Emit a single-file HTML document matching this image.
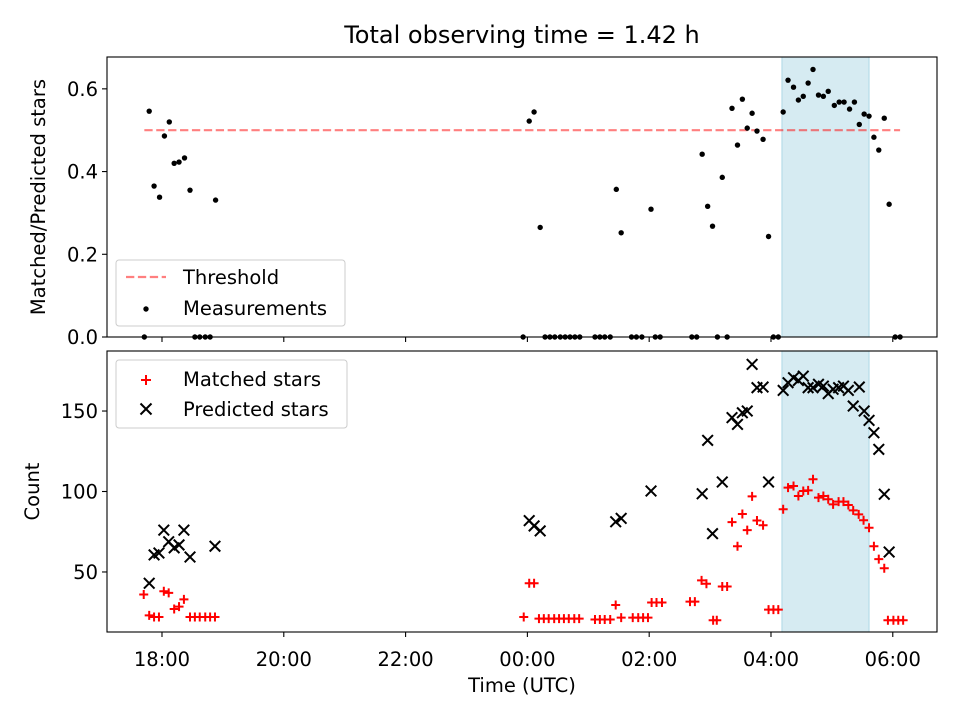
<!DOCTYPE html>
<html><head><meta charset="utf-8"><style>
body{margin:0;background:#fff}
svg{display:block;font-family:"DejaVu Sans","Liberation Sans",sans-serif}
</style></head><body>
<svg id="chart" width="960" height="720" xmlns="http://www.w3.org/2000/svg"></svg>
<script>
const ratioTimes=[17.71,17.79,17.87,17.96,18.04,18.12,18.20,18.28,18.37,18.46,18.54,18.62,18.71,18.79,18.88,
23.93,24.03,24.11,24.21,24.29,24.37,24.45,24.54,24.62,24.70,24.78,24.86,25.11,25.19,25.27,25.36,25.46,25.54,25.71,25.79,25.88,26.03,26.10,26.18,26.70,26.78,
26.87,26.96,27.04,27.12,27.20,27.28,27.36,27.45,27.53,27.61,27.69,27.77,27.87,27.96,28.04,28.12,28.20,28.28,28.37,28.45,28.53,28.61,28.69,28.78,28.86,28.94,29.04,29.12,29.20,29.29,29.37,29.45,29.53,29.61,29.69,29.77,29.86,29.94,30.04,30.12];
const ratioValues=[0,0.546,0.365,0.338,0.486,0.52,0.42,0.423,0.433,0.355,0,0,0,0,0.331,
0,0.522,0.544,0.265,0,0,0,0,0,0,0,0,0,0,0,0,0.357,0.252,0,0,0,0.309,0,0,0,0,
0.442,0.316,0.268,0,0.386,0,0.553,0.464,0.575,0.505,0.541,0.498,0.478,0.243,0,0,0.544,0.621,0.604,0.573,0.582,0.614,0.647,0.585,0.582,0.594,0.560,0.568,0.568,0.551,0.568,0.514,0.539,0.534,0.483,0.452,0.529,0.321,0,0];
const matchedTimes=[17.70,17.79,17.87,17.95,18.03,18.11,18.20,18.28,18.36,18.46,18.54,18.62,18.71,18.79,18.87,
23.94,24.03,24.11,24.19,24.27,24.35,24.44,24.52,24.60,24.68,24.77,24.85,25.11,25.19,25.27,25.36,25.45,25.54,25.73,25.82,25.90,25.98,26.04,26.12,26.21,
26.67,26.75,26.86,26.94,27.05,27.11,27.20,27.28,27.36,27.45,27.53,27.61,27.69,27.77,27.87,27.96,28.04,28.12,28.20,28.28,28.37,28.45,28.53,28.61,28.69,28.78,28.86,28.94,29.02,29.11,29.19,29.27,29.35,29.44,29.52,29.61,29.69,29.77,29.86,29.92,30.01,30.09,30.17];
const matchedValues=[36,23,22,22,38,37,27,28.5,33,22,22,22,22,22,22,
22,43,43,21,21,21,21,21,21,21,21,21,20.5,20.5,20.5,20.5,29.5,21.6,21.6,21.6,21.6,21.6,31,31,31,
31.6,31.6,44.8,42.7,20,20,41,41,81,66,86,76,97,82,79,26.6,26.6,26.6,89,102.4,103.4,97.2,100.3,100.7,107.6,96.2,97.2,95.2,92,93.7,93.7,91.6,88.3,85.8,82.1,77.5,66,58,52.3,20,20,20,20];
const predTimes=[17.79,17.87,17.95,18.03,18.11,18.20,18.28,18.36,18.46,18.87,
24.03,24.11,24.21,25.45,25.54,26.03,
26.87,26.96,27.04,27.20,27.36,27.45,27.53,27.61,27.69,27.77,27.87,27.96,28.20,28.28,28.37,28.45,28.53,28.61,28.69,28.78,28.86,28.94,29.02,29.11,29.19,29.27,29.35,29.45,29.53,29.61,29.69,29.77,29.86,29.94];
const predValues=[43,60.6,61.8,76,68.8,65,66.8,76,59.3,66,
81.9,78.6,75.5,81.2,83.3,100.3,
98.6,131.8,73.8,105.9,145.9,141.7,148.9,150,179,164.5,164.9,105.9,162.8,167.6,170.7,169,171.7,164.5,164.5,166.6,165.5,160.8,163.5,164.5,165.5,162.8,153.1,164.9,150,144.2,136.5,126.2,98.3,62.4];
const threshold=0.5;
const shadeRange=[28.18,29.61];
const xTicks=[18,20,22,24,26,28,30];
const xTickLabels=["18:00","20:00","22:00","00:00","02:00","04:00","06:00"];
const topTicks=[0,0.2,0.4,0.6];
const topTickLabels=["0.0","0.2","0.4","0.6"];
const botTicks=[50,100,150];
const botTickLabels=["50","100","150"];

const svg=document.getElementById('chart');
const NS='http://www.w3.org/2000/svg';
function el(tag,attrs,parent){const e=document.createElementNS(NS,tag);for(const k in attrs)e.setAttribute(k,attrs[k]);(parent||svg).appendChild(e);return e;}
const L=107,R=937,T1=57,B1=337,T2=351,B2=632;
const X0=17.097,X1=30.726;
const FS='19.5';
const xs=h=>L+(h-X0)/(X1-X0)*(R-L);
const y1=v=>B1-(v-0)/(0.677-0)*(B1-T1);
const y2=v=>B2-(v-12.7)/(187.3-12.7)*(B2-T2);

let t=el('text',{x:522,y:43,'text-anchor':'middle','font-size':'24'});t.textContent='Total observing time = 1.42 h';



[[T1,B1],[T2,B2]].forEach((p,i)=>{
 const r=el('rect',{x:xs(shadeRange[0]),y:p[0],width:xs(shadeRange[1])-xs(shadeRange[0]),height:p[1]-p[0],fill:'#add8e6','fill-opacity':0.5,stroke:'#add8e6'});
 
 
});

const th=el('line',{x1:xs(ratioTimes[0]),x2:xs(ratioTimes[ratioTimes.length-1]),y1:y1(threshold),y2:y1(threshold),stroke:'#ff0000','stroke-opacity':0.5,'stroke-width':2.2,'stroke-dasharray':'8.3,3.6'});



ratioTimes.forEach((h,i)=>{
 const c=el('circle',{cx:xs(h),cy:y1(ratioValues[i]),r:2.7,fill:'#000'});
 
 
});
matchedTimes.forEach((h,i)=>{
 const x=xs(h),y=y2(matchedValues[i]);
 const p=el('path',{d:`M${x-4.5},${y}H${x+4.5}M${x},${y-4.5}V${y+4.5}`,stroke:'#ff0000','stroke-width':2});
 
 
});
predTimes.forEach((h,i)=>{
 const x=xs(h),y=y2(predValues[i]),d=5.3;
 const p=el('path',{d:`M${x-d},${y-d}L${x+d},${y+d}M${x-d},${y+d}L${x+d},${y-d}`,stroke:'#000','stroke-width':2});
 
 
});

[[T1,B1,'top'],[T2,B2,'bottom']].forEach(p=>{
 const f=el('rect',{x:L,y:p[0],width:R-L,height:p[1]-p[0],fill:'none',stroke:'#000','stroke-width':1.1});
 
 
 xTicks.forEach((v,i)=>{
  el('line',{x1:xs(v),x2:xs(v),y1:p[1],y2:p[1]+5,stroke:'#000','stroke-width':1.1});
  if(p[2]==='bottom'){
   const tl=el('text',{x:xs(v),y:p[1]+34,'text-anchor':'middle','font-size':FS});tl.textContent=xTickLabels[i];
   
   
  }
 });
});
topTicks.forEach((v,i)=>{
 el('line',{x1:L-5,x2:L,y1:y1(v),y2:y1(v),stroke:'#000','stroke-width':1.1});
 const tl=el('text',{x:L-9,y:y1(v)+7,'text-anchor':'end','font-size':FS});tl.textContent=topTickLabels[i];
 
 
});
botTicks.forEach((v,i)=>{
 el('line',{x1:L-5,x2:L,y1:y2(v),y2:y2(v),stroke:'#000','stroke-width':1.1});
 const tl=el('text',{x:L-9,y:y2(v)+7,'text-anchor':'end','font-size':FS});tl.textContent=botTickLabels[i];
 
 
});
let a=el('text',{x:0,y:0,'text-anchor':'middle','font-size':FS,transform:`translate(45,${(T1+B1)/2}) rotate(-90)`});a.textContent='Matched/Predicted stars';


a=el('text',{x:0,y:0,'text-anchor':'middle','font-size':FS,transform:`translate(39,${(T2+B2)/2}) rotate(-90)`});a.textContent='Count';


a=el('text',{x:522,y:692,'text-anchor':'middle','font-size':FS});a.textContent='Time (UTC)';



let g=el('g',{});


el('rect',{x:116,y:260,width:229,height:66,rx:3,fill:'#fff','fill-opacity':0.8,stroke:'#ccc'},g);
el('line',{x1:126,x2:166,y1:277,y2:277,stroke:'#ff0000','stroke-opacity':0.5,'stroke-width':2.2,'stroke-dasharray':'8.3,3.6'},g);
el('circle',{cx:146,cy:309,r:2.7,fill:'#000'},g);
let lt=el('text',{x:183,y:284,'font-size':FS},g);lt.textContent='Threshold';


lt=el('text',{x:183,y:315,'font-size':FS},g);lt.textContent='Measurements';



g=el('g',{});


el('rect',{x:116,y:360,width:231,height:68,rx:3,fill:'#fff','fill-opacity':0.8,stroke:'#ccc'},g);
el('path',{d:'M141,380H151M146,375V385',stroke:'#ff0000','stroke-width':2},g);
el('path',{d:'M140.5,403.5L151.5,414.5M140.5,414.5L151.5,403.5',stroke:'#000','stroke-width':2},g);
lt=el('text',{x:183,y:386,'font-size':FS},g);lt.textContent='Matched stars';


lt=el('text',{x:183,y:416,'font-size':FS},g);lt.textContent='Predicted stars';


</script>
</body></html>
